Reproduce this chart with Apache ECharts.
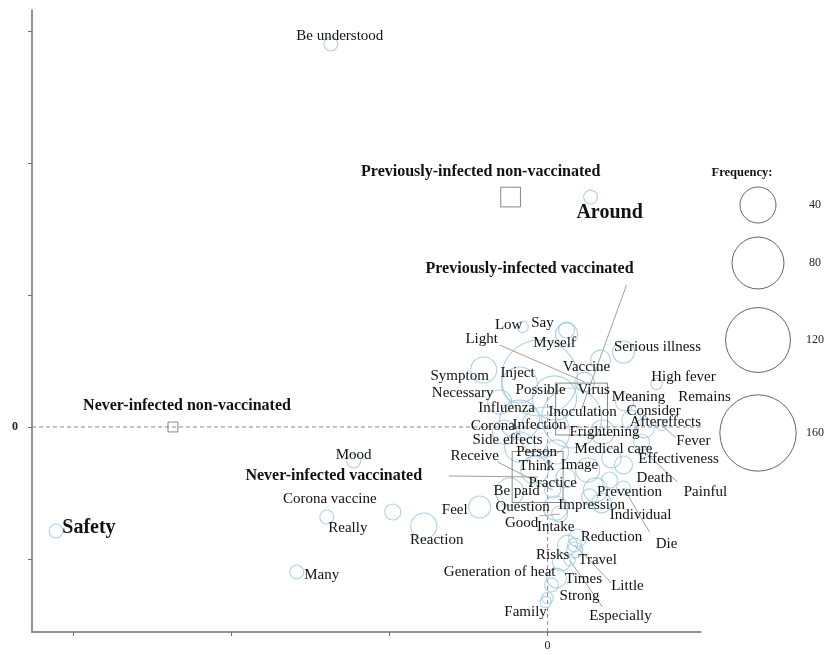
<!DOCTYPE html>
<html><head><meta charset="utf-8">
<script src="https://cdn.jsdelivr.net/npm/echarts@6/dist/echarts.min.js"></script>
<style>html,body{margin:0;padding:0;background:#fff}#c{width:828px;height:655px}</style>
</head><body><div id="c"></div>
<script>
// ---- word data (correspondence analysis coordinates, frequency) ----
const words = ["Be understood","Around","Safety","Many","Mood","Corona vaccine","Really","Reaction","Feel","Low","Say","Myself","Light","Vaccine","Serious illness","Symptom","Inject","Possible","Virus","Necessary","High fever","Meaning","Remains","Influenza","Inoculation","Consider","Corona","Infection","Aftereffects","Frightening","Fever","Side effects","Person","Medical care","Receive","Think","Image","Effectiveness","Death","Painful","Practice","Be paid","Prevention","Question","Impression","Individual","Good","Intake","Die","Reduction","Risks","Travel","Generation of heat","Times","Little","Strong","Family","Especially"];
const wordX = [-1.371,0.272,-3.108,-1.586,-1.226,-0.979,-1.396,-0.783,-0.430,-0.158,0.120,0.120,0.234,-0.051,0.480,-0.404,-0.177,0.044,0.335,-0.303,0.689,0.486,0.613,-0.177,0.152,0.531,-0.272,-0.019,0.594,0.347,0.720,-0.177,0.057,0.404,0.032,-0.082,0.253,0.480,0.392,0.613,0.114,-0.240,0.303,0.051,0.265,0.341,0.076,0.126,0.480,0.190,0.088,0.171,0.057,0.025,0.171,0.000,-0.013,0.139];
const wordY = [2.902,1.742,-0.788,-1.098,-0.258,-0.644,-0.682,-0.750,-0.606,0.758,0.735,0.705,0.341,0.371,0.568,0.432,0.318,0.220,0.508,0.189,0.326,0.189,-0.008,0.053,0.068,0.053,-0.038,-0.038,-0.114,-0.038,0.015,-0.152,-0.189,-0.235,-0.477,-0.326,-0.326,-0.288,-0.402,-0.189,-0.386,-0.492,-0.477,-0.614,-0.530,-0.576,-0.659,-0.894,-0.462,-0.841,-1.023,-0.932,-1.144,-1.197,-0.894,-1.295,-1.326,-1.008];
const wordFreq = [6,6,6,6,6,8,6,21,15,4,8,15,12,178,15,21,40,60,12,18,4,10,12,49,111,12,18,77,8,18,4,28,18,12,8,24,18,10,8,4,12,24,18,18,8,12,8,12,6,10,10,8,12,6,6,4,4,4];
// label anchor positions (same coordinate system)
const labelX = [-1.314,0.392,-2.900,-1.428,-1.226,-1.377,-1.263,-0.701,-0.587,-0.246,-0.032,0.044,-0.417,0.246,0.695,-0.556,-0.190,-0.044,0.291,-0.537,0.859,0.575,0.992,-0.259,0.221,0.670,-0.347,-0.051,0.745,0.360,0.922,-0.253,-0.069,0.417,-0.461,-0.069,0.202,0.828,0.676,0.998,0.032,-0.196,0.518,-0.158,0.278,0.588,-0.164,0.051,0.752,0.404,0.032,0.316,-0.303,0.227,0.505,0.202,-0.139,0.461];
const labelY = [2.962,1.621,-0.765,-1.121,-0.212,-0.545,-0.765,-0.856,-0.629,0.773,0.788,0.636,0.667,0.455,0.606,0.386,0.409,0.280,0.280,0.258,0.379,0.227,0.227,0.144,0.114,0.121,0.008,0.015,0.038,-0.038,-0.106,-0.098,-0.189,-0.167,-0.220,-0.295,-0.288,-0.242,-0.386,-0.492,-0.424,-0.485,-0.492,-0.606,-0.591,-0.667,-0.727,-0.758,-0.886,-0.833,-0.970,-1.008,-1.098,-1.152,-1.205,-1.280,-1.402,-1.432];
const bigWords = ["Safety","Around"];
// leader lines: word, start point near its label
const leaderWord = ["Light","Receive","Good","Painful","Die","Little","Especially","Fever"];
const leaderX = [-0.303,-0.316,-0.051,0.821,0.644,0.404,0.347,0.810];
const leaderY = [0.621,-0.265,-0.674,-0.417,-0.795,-1.182,-1.364,-0.080];

// ---- groups (squares) ----
const groups = ["Previously-infected non-vaccinated","Previously-infected vaccinated","Never-infected vaccinated","Never-infected non-vaccinated"];
const groupX = [-0.234,0.215,-0.063,-2.369];
const groupY = [1.742,0.136,-0.379,0.000];
const groupFreq = [12,83,80,3];
const groupLabelX = [-0.423,-0.114,-1.352,-2.280];
const groupLabelY = [1.932,1.197,-0.371,0.159];
const groupLeaderX = [null,0.499,-0.625,null];
const groupLeaderY = [null,1.076,-0.371,null];

// ---- axes ----
const xRange = [-3.26, 0.97];
const yRange = [-1.553, 3.159];
const xTicks = [-3,-2,-1,0];
const yTicks = [-1,0,1,2,3];
const legendFreq = [40,80,120,160];
// dashed reference lines through the origin: [x1,y1,x2,y2]
const zeroLines = [[-3.26,0,0.97,0],[0,-1.553,0,0.30]];

const sizeOf = f => 36*Math.sqrt(f/40);
const SERIF = '"Liberation Serif","Times New Roman",serif';

const chart = echarts.init(document.getElementById('c'));

const bubbleData = words.map((w,i)=>({name:w,value:[wordX[i],wordY[i],wordFreq[i]]}));
const labelData = words.map((w,i)=>({name:w,value:[labelX[i],labelY[i]]}))
  .concat(groups.map((g,i)=>({name:g,value:[groupLabelX[i],groupLabelY[i]],group:true})));
const leaderData = [];
leaderWord.forEach((w,i)=>{const k=words.indexOf(w);leaderData.push([leaderX[i],leaderY[i],wordX[k],wordY[k]]);});
groups.forEach((g,i)=>{ if(groupLeaderX[i]!==null) leaderData.push([groupLeaderX[i],groupLeaderY[i],groupX[i],groupY[i]]);});

chart.setOption({
  animation:false,
  backgroundColor:'#fff',
  grid:{left:32,right:127,top:10,bottom:23},
  xAxis:{type:'value',min:xRange[0],max:xRange[1],position:'bottom',
    axisLine:{onZero:false,lineStyle:{color:'#707070',width:1.5}},
    axisTick:{show:true,customValues:xTicks,length:4,lineStyle:{color:'#707070'}},
    axisLabel:{customValues:[0],formatter:v=>Math.abs(v)<1e-9?'0':'',fontFamily:SERIF,fontSize:12,color:'#222',margin:8},
    splitLine:{show:false}},
  yAxis:{type:'value',min:yRange[0],max:yRange[1],
    axisLine:{show:true,onZero:false,lineStyle:{color:'#707070',width:1.5}},
    axisTick:{show:true,customValues:yTicks,length:4,lineStyle:{color:'#707070'}},
    axisLabel:{customValues:[0],formatter:v=>Math.abs(v)<1e-9?'0':'',fontFamily:SERIF,fontSize:12,fontWeight:'bold',color:'#222',margin:14},
    splitLine:{show:false}},
  graphic: legendFreq.map((f,i)=>{
    const cy=[205,263,340,433][i];
    return {type:'group',children:[
      {type:'circle',shape:{cx:758,cy:cy,r:sizeOf(f)/2*(1+0.02*i)},style:{fill:'none',stroke:'#666',lineWidth:1}},
      {type:'text',x:815,y:cy,style:{text:String(f),font:'12px '+SERIF,fill:'#222',align:'center',verticalAlign:'middle'}}
    ]};
  }).concat([{type:'text',x:742,y:173,style:{text:'Frequency:',font:'bold 12.5px '+SERIF,fill:'#111',align:'center',verticalAlign:'middle'}}]),
  series:[
    {type:'custom',clip:false,z:1,data:zeroLines,
      renderItem:(p,api)=>{const a=api.coord([api.value(0),api.value(1)]);const b=api.coord([api.value(2),api.value(3)]);
        return {type:'line',shape:{x1:a[0],y1:a[1],x2:b[0],y2:b[1]},style:{stroke:'#8a8a8a',lineWidth:1,lineDash:[4,3]}};}},
    {type:'custom',clip:false,z:2,data:leaderData,
      renderItem:(p,api)=>{const a=api.coord([api.value(0),api.value(1)]);const b=api.coord([api.value(2),api.value(3)]);
        return {type:'line',shape:{x1:a[0],y1:a[1],x2:b[0],y2:b[1]},style:{stroke:'#a0a0a0',lineWidth:1}};}},
    {type:'scatter',z:3,data:bubbleData,symbol:'circle',
      symbolSize:v=>sizeOf(v[2]),
      itemStyle:{color:'rgba(0,0,0,0)',borderColor:'#9cc7df',borderWidth:1.1},silent:true},
    {type:'scatter',z:4,data:groups.map((g,i)=>({name:g,value:[groupX[i],groupY[i],groupFreq[i]]})),symbol:'rect',
      symbolSize:v=>sizeOf(v[2]),
      itemStyle:{color:'rgba(0,0,0,0)',borderColor:'#6a6a6a',borderWidth:1},silent:true},
    {type:'custom',clip:false,z:5,data:labelData,
      renderItem:(p,api)=>{const d=labelData[p.dataIndex];const c=api.coord([api.value(0),api.value(1)]);
        let font='15px '+SERIF;
        if(d.group) font='bold 16px '+SERIF;
        if(bigWords.indexOf(d.name)>=0) font='bold 20px '+SERIF;
        return {type:'text',x:c[0],y:c[1],style:{text:d.name,font:font,fill:'#111',align:'center',verticalAlign:'middle'}};}}
  ]
});
</script></body></html>
